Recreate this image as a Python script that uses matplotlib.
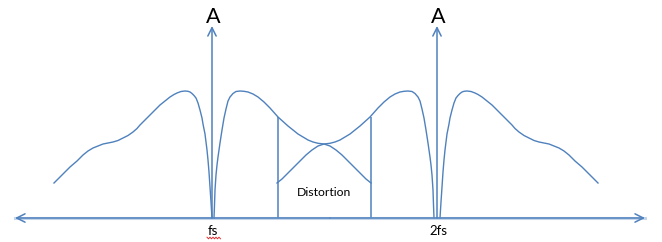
import numpy as np
import matplotlib
matplotlib.use("Agg")
from matplotlib import pyplot as plt

# picture coordinates (px), y grows downward
AXIS_Y = 218
FS_X = 212
FS2_X = 437
# the 2fs spectrum is the fs spectrum mirrored: x' = MIRROR - x
MIRROR_IN = 648   # inner lobe (folds into the distortion region)
MIRROR_OUT = 652  # outer lobe

# left sideband of fs (outer tail -> notch at fs)
left_x = [54, 62, 70, 77, 83, 88, 93, 98, 103, 108, 113, 118, 123, 128, 133, 137,
          140, 145, 150, 155, 160, 165, 170, 174, 177, 181, 185, 188, 190, 192,
          194, 196, 198, 200, 202, 203, 205, 206, 207, 208, 209, 210, 211, 212]
left_y = [183, 175, 167, 161, 155, 151, 148, 146, 144, 143, 142, 140.5, 138, 135.5,
          132, 128.5, 125, 120, 115, 110, 105, 101, 97, 94.5, 93, 91.5, 91, 91.3,
          92, 93.5, 95.5, 98, 103, 110, 118, 124, 134, 142, 150, 160, 172, 187,
          202, 218]

# right sideband of fs (notch at fs -> folds past fs/2)
right_x = [214, 214.5, 215, 216, 217, 218, 220, 222, 224, 226, 228, 230, 233, 236,
           240, 244, 248, 253, 258, 264, 270, 274, 278, 283, 288, 293, 298, 303,
           308, 313, 318, 324, 330, 336, 342, 348, 354, 360, 366, 371]
right_y = [218, 205, 190, 175, 165, 157, 143, 130, 118, 109, 101, 97, 93.5, 91.5,
           91, 91.3, 92, 94, 97, 102, 108, 112.5, 117, 121.5, 126, 130, 134, 137,
           140, 142, 143.3, 144, 146, 150, 155, 161, 167, 173, 179, 183]

# guard lines bounding the distortion region
guard_x = [278, 371]
guard_top = [117, 117]

arrow_labels = ["fs", "2fs"]
arrow_x = [FS_X, FS2_X]

blue = "#4F81BD"

fig = plt.figure(figsize=(6.62, 2.42), dpi=100)
ax = fig.add_axes([0, 0, 1, 1])
ax.set_xlim(0, 662)
ax.set_ylim(242, 0)
ax.axis("off")

lx = np.array(left_x)
rx = np.array(right_x)
kw = dict(color=blue, lw=1.0, solid_joinstyle="round")
# fs spectrum
ax.plot(lx, left_y, **kw)
ax.plot(rx, right_y, **kw)
# 2fs spectrum (mirror image)
ax.plot(MIRROR_OUT - lx, left_y, **kw)
ax.plot(MIRROR_IN - rx, right_y, **kw)

# distortion guard lines
ax.vlines(guard_x, guard_top, AXIS_Y, color=blue, lw=1.1)

# frequency axis with arrows both ends
ax.plot([15, 645], [AXIS_Y, AXIS_Y], color="#9bb9df", lw=2.2, alpha=0.6)
head = "->,head_length=0.6,head_width=0.3"
ax.annotate("", xy=(15, AXIS_Y), xytext=(330, AXIS_Y),
            arrowprops=dict(arrowstyle=head, color=blue, lw=1.1, shrinkA=0, shrinkB=0))
ax.annotate("", xy=(645, AXIS_Y), xytext=(330, AXIS_Y),
            arrowprops=dict(arrowstyle=head, color=blue, lw=1.1, shrinkA=0, shrinkB=0))

font = ["Lato", "DejaVu Sans"]
for x, lab in zip(arrow_x, arrow_labels):
    ax.annotate("", xy=(x, 26), xytext=(x, AXIS_Y),
                arrowprops=dict(arrowstyle=head, color=blue, lw=1.1, shrinkA=0, shrinkB=0))
    ax.text(x + 1, 17, "A", ha="center", va="center", fontsize=15.5, family=font)
    ax.text(x + 1, 231, lab, ha="center", va="center", fontsize=9.5, family=font)

# spell-check squiggle under "fs"
sq_x = np.arange(207, 222, 1.5)
sq_y = 238 + np.where(np.arange(len(sq_x)) % 2 == 0, -0.8, 0.8)
ax.plot(sq_x, sq_y, color="#e03030", lw=0.7)

ax.text(324, 193, "Distortion", ha="center", va="center", fontsize=8.8, family=font)

fig.savefig("out.png", dpi=100, facecolor="white")
